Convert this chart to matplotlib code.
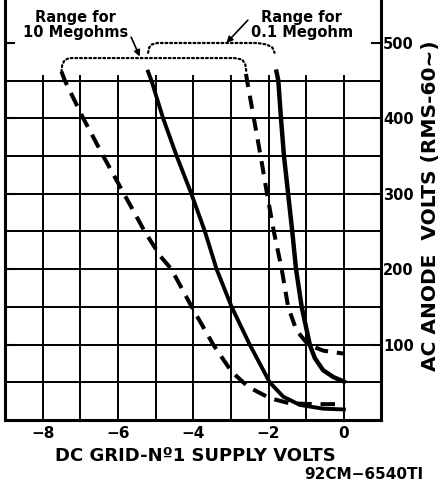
import matplotlib
matplotlib.use("Agg")
import matplotlib.pyplot as plt

# ---------------------------------------------------------------------------
# Data (DC grid-No.1 volts vs AC anode volts)
# ---------------------------------------------------------------------------
dash_10meg_v = [-7.50, -7.41, -6.92, -6.39, -5.84, -5.29, -4.87, -4.58, -4.04,
                -3.47, -2.98, -2.54, -1.97, -1.43, -0.73, 0.0]
dash_10meg_a = [462, 450, 400, 350, 300, 250, 217, 200, 150,
                100, 64, 44, 29, 22, 21, 21]

solid_10meg_v = [-5.20, -5.11, -4.80, -4.44, -4.05, -3.69, -3.38, -2.98,
                 -2.50, -1.97, -1.61, -1.17, -0.55, 0.0]
solid_10meg_a = [462, 450, 400, 350, 300, 250, 200, 150,
                 100, 50, 31, 20, 15, 14]

dash_01meg_v = [-2.60, -2.57, -2.39, -2.21, -2.04, -1.86, -1.65, -1.48,
                -1.26, -0.95, -0.55, 0.0]
dash_01meg_a = [459, 450, 400, 350, 300, 250, 200, 150,
                119, 100, 92, 88]

solid_01meg_v = [-1.79, -1.74, -1.67, -1.59, -1.48, -1.37, -1.27, -1.12,
                 -0.90, -0.77, -0.55, -0.28, 0.0]
solid_01meg_a = [462, 450, 400, 350, 300, 250, 200, 150,
                 99, 82, 66, 57, 51]

# dotted "range" brackets
bracket_10_v = [-7.50, -7.48, -7.42, -7.30, -7.10, -2.90, -2.70, -2.62, -2.59]
bracket_10_a = [462, 471, 477, 480, 480, 480, 478, 472, 462]
bracket_01_v = [-5.20, -5.17, -5.10, -4.95, -4.75, -2.30, -2.05, -1.90, -1.84]
bracket_01_a = [487, 494, 498, 500, 500, 500, 498, 494, 487]

grid_v = [-8, -7, -6, -5, -4, -3, -2, -1, 0]
grid_a = [50, 100, 150, 200, 250, 300, 350, 400, 450]
xticks = [-8, -6, -4, -2, 0]
xtick_labels = ["\u22128", "\u22126", "\u22124", "\u22122", "0"]
yticks = [100, 200, 300, 400, 500]

FONT = "DejaVu Sans"

fig = plt.figure(figsize=(4.41, 4.83), dpi=100)
fig.patch.set_facecolor("white")
ax = fig.add_axes([5 / 441, 63 / 483, 376.5 / 441, 420 / 483])
ax.set_xlim(-9, 1)
ax.set_ylim(0, 557)

# grid
ax.hlines(grid_a, -9, 1, color="black", linewidth=1.4, zorder=1)
ax.vlines(grid_v, 0, 458, color="black", linewidth=1.4, zorder=1)

# curves
ax.plot(dash_10meg_v, dash_10meg_a, color="black", linewidth=2.9,
        dashes=(3.6, 2.2), solid_capstyle="butt", zorder=3)
ax.plot(solid_10meg_v, solid_10meg_a, color="black", linewidth=2.8, zorder=3)
ax.plot(dash_01meg_v, dash_01meg_a, color="black", linewidth=2.9,
        dashes=(3.3, 2.2), zorder=3)
ax.plot(solid_01meg_v, solid_01meg_a, color="black", linewidth=3.2, zorder=3)

# brackets
ax.plot(bracket_10_v, bracket_10_a, color="black", linewidth=1.6,
        linestyle=(0, (0.8, 1.3)), dash_capstyle="round", zorder=3)
ax.plot(bracket_01_v, bracket_01_a, color="black", linewidth=1.6,
        linestyle=(0, (0.8, 1.3)), dash_capstyle="round", zorder=3)

# annotations
ax.annotate("Range for\n10 Megohms", xy=(-5.42, 482), xytext=(-7.12, 524),
            ha="center", va="center", fontsize=10.5, fontweight="bold",
            family=FONT, linespacing=1.05,
            arrowprops=dict(arrowstyle="-|>", color="black", lw=1.2,
                            mutation_scale=9, shrinkA=0, shrinkB=0,
                            relpos=(1.0, 0.3)))
ax.annotate("Range for\n0.1 Megohm", xy=(-3.12, 500), xytext=(-1.12, 524),
            ha="center", va="center", fontsize=10.5, fontweight="bold",
            family=FONT, linespacing=1.05,
            arrowprops=dict(arrowstyle="-|>", color="black", lw=1.2,
                            mutation_scale=9, shrinkA=0, shrinkB=0,
                            relpos=(0.0, 0.75)))

# spines / ticks
ax.spines["top"].set_visible(False)
for s in ("left", "right", "bottom"):
    ax.spines[s].set_linewidth(2.2)
ax.set_xticks(xticks)
ax.set_xticklabels(xtick_labels, fontsize=11, fontweight="bold", family=FONT)
ax.tick_params(axis="x", length=0, pad=4)
ax.set_yticks(yticks)
ax.yaxis.tick_right()
ax.set_yticklabels([str(t) for t in yticks], fontsize=10.5, fontweight="bold",
                   family=FONT)
ax.tick_params(axis="y", direction="in", length=7, width=1.5, pad=1,
               left=True, right=True)

ax.text(1.13, 0.51, "AC ANODE  VOLTS (RMS-60~)", transform=ax.transAxes,
        rotation=90, ha="center", va="center", fontsize=14.5,
        fontweight="bold", family=FONT)
ax.text(0.505, -0.086, "DC GRID-N\u00ba1 SUPPLY VOLTS", transform=ax.transAxes,
        ha="center", va="center", fontsize=13, fontweight="bold",
        family=FONT)
fig.text(423 / 441, 1 / 483, "92CM\u22126540TI", ha="right", va="bottom",
         fontsize=11, fontweight="bold", family=FONT)

fig.savefig("out.png", dpi=100, facecolor="white")
